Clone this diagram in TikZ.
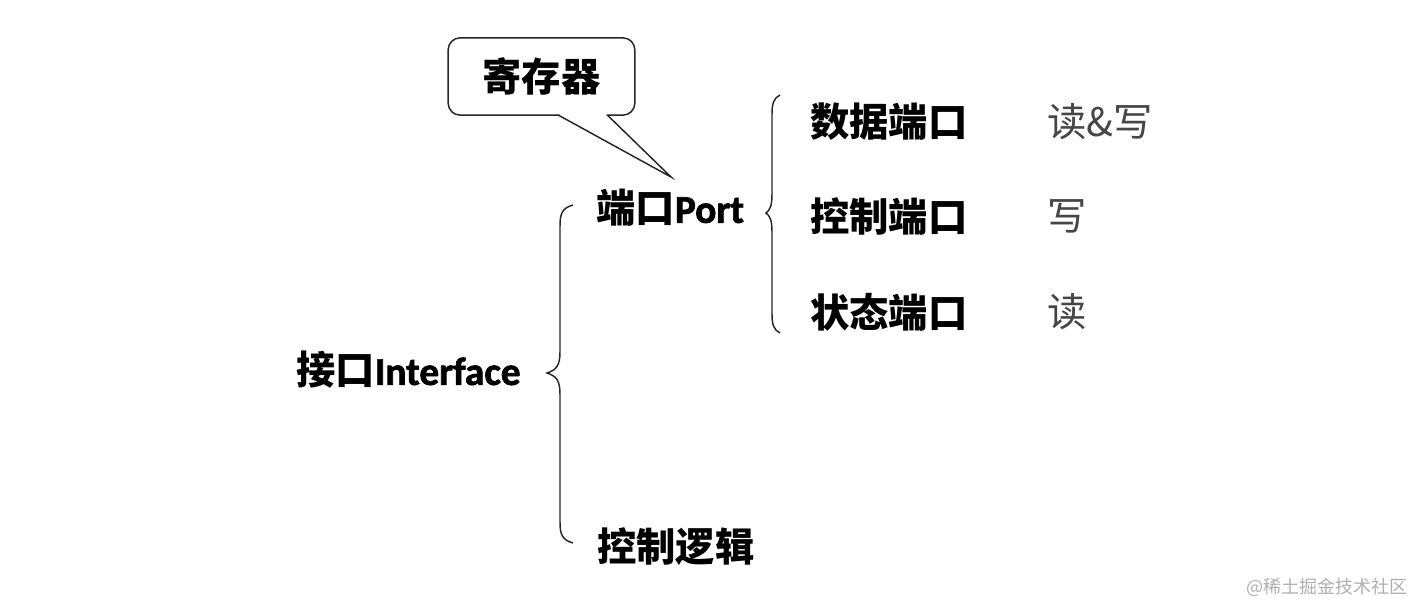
\documentclass[tikz,border=0pt]{standalone}
\usepackage{fontspec}
\setmainfont{Carlito}
\newfontfamily\cjk{Noto Sans CJK SC}
\newfontfamily\latinbold{Carlito}[FakeBold=1.8]
\definecolor{graytext}{RGB}{70,70,70}
\definecolor{wmark}{RGB}{175,175,175}
\begin{document}
\begin{tikzpicture}[x=0.75pt,y=-0.75pt,
  lbl/.style={anchor=west,inner sep=0pt,font=\fontsize{29.5}{32}\selectfont\bfseries},
  val/.style={anchor=west,inner sep=0pt,text=graytext,font=\fontsize{29.5}{32}\selectfont\cjk},
  brace/.style={line width=1.1pt,draw=black!85},
  callout/.style={draw=black!85,line width=1.1pt,rounded corners=9pt,fill=white,
    minimum width=140pt,minimum height=58pt,inner sep=0pt,
    font=\fontsize{29.5}{32}\selectfont\cjk\bfseries}]
\useasboundingbox (0,0) rectangle (1414,604);

% callout
\node[callout] (reg) at (541.5,76.5) {寄存器};
\coordinate (tip) at (671,177);
\fill[white] (559.5,112.5) -- (606.5,112.5) -- (606.5,117) -- (tip) -- (559.5,117) -- cycle;
\draw[brace] (558.5,115.2) -- (tip) -- (607.5,115.2);

% nodes
\node[lbl] (iface) at (296,370) {{\cjk 接口}{\latinbold Interface}};
\node[lbl] (port) at (596,208) {{\cjk 端口}{\latinbold Port}};
\node[lbl] (ctrl) at (597,547) {{\cjk 控制逻辑}};
\node[lbl] (data) at (810,122) {{\cjk 数据端口}};
\node[lbl] (cport) at (810,216) {{\cjk 控制端口}};
\node[lbl] (sport) at (810,312) {{\cjk 状态端口}};
\node[val] (v1) at (1047,122) {读\&写};
\node[val] (v2) at (1047,216) {写};
\node[val] (v3) at (1047,312) {读};

% left brace
\draw[brace] (573,205) .. controls (562,208) and (560,214) .. (560,226)
  -- (560,352) .. controls (560,366) and (556,370) .. (547,373)
  .. controls (556,376) and (560,380) .. (560,394)
  -- (560,522) .. controls (560,534) and (562,540) .. (573,543);

% right brace
\draw[brace] (780,95) .. controls (774,98) and (772,103) .. (772,114)
  -- (772,194) .. controls (772,206) and (770,210) .. (766,213)
  .. controls (770,216) and (772,220) .. (772,232)
  -- (772,314) .. controls (772,325) and (774,330) .. (780,333);

% watermark
\node[anchor=east,inner sep=0pt,text=wmark,font=\fontsize{13.5}{15}\selectfont\cjk] (wm) at (1408,587) {@稀土掘金技术社区};
\end{tikzpicture}
\end{document}
